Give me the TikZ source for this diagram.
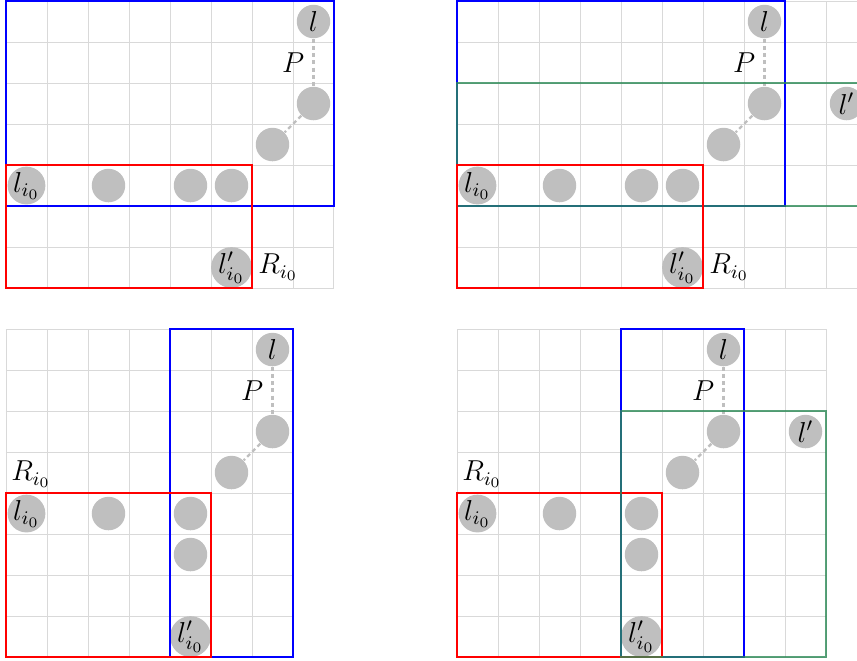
\documentclass[tikz,border=0pt]{standalone}
\usepackage{amsmath}
\usepackage{tikz}
\usetikzlibrary{positioning}
\definecolor{boxgreen}{RGB}{46,139,87}
\tikzstyle{cellgrid} = [black!15, line width=0.4pt, step=0.6cm]
\tikzstyle{pt}       = [circle, fill=lightgray, minimum size=0.49cm, inner sep=0pt]
\tikzstyle{pline}    = [lightgray, line width=1pt, dash pattern=on 1.7pt off 1.3pt]
\tikzstyle{rbox}     = [red, semithick]
\tikzstyle{bbox}     = [blue, semithick]
\tikzstyle{gbox}     = [boxgreen, semithick, opacity=0.8]

\begin{document}
\begin{tikzpicture}[x=0.6cm, y=0.6cm, every node/.style={font=\fontsize{11.5}{14}\selectfont}]
  \clip (-0.146,-0.073) rectangle (20.756,16.025);

  % --- Top left ---
  \begin{scope}[shift={(0,9)}]
    \draw[cellgrid] (0,0) grid (8,7);
    \node (tl_l)   [pt] at (7.5,6.5) {$l$};
    \node (tl_m1)  [pt] at (7.5,4.5) {};
    \node (tl_m2)  [pt] at (6.5,3.5) {};
    \node (tl_li)  [pt] at (0.5,2.5) {$l_{i_0}$};
    \node (tl_r1)  [pt] at (2.5,2.5) {};
    \node (tl_r2)  [pt] at (4.5,2.5) {};
    \node (tl_r3)  [pt] at (5.5,2.5) {};
    \node (tl_lpi) [pt] at (5.5,0.5) {$l'_{i_0}$};
    \node (tl_R)   [right=-1pt of tl_lpi] {$R_{i_0}$};
    \draw[pline] (tl_l) -- node[left, text=black]{$P$} (tl_m1);
    \draw[pline] (tl_m1) -- (tl_m2);
    \draw[bbox] (0,2) rectangle (8,7);
    \draw[rbox] (0,0) rectangle (6,3);
  \end{scope}

  % --- Top right ---
  \begin{scope}[shift={(11,9)}]
    \draw[cellgrid] (0,0) grid (10,7);
    \node (tr_l)   [pt] at (7.5,6.5) {$l$};
    \node (tr_m1)  [pt] at (7.5,4.5) {};
    \node (tr_m2)  [pt] at (6.5,3.5) {};
    \node (tr_lp)  [pt] at (9.5,4.5) {$l'$};
    \node (tr_li)  [pt] at (0.5,2.5) {$l_{i_0}$};
    \node (tr_r1)  [pt] at (2.5,2.5) {};
    \node (tr_r2)  [pt] at (4.5,2.5) {};
    \node (tr_r3)  [pt] at (5.5,2.5) {};
    \node (tr_lpi) [pt] at (5.5,0.5) {$l'_{i_0}$};
    \node (tr_R)   [right=-1pt of tr_lpi] {$R_{i_0}$};
    \draw[pline] (tr_l) -- node[left, text=black]{$P$} (tr_m1);
    \draw[pline] (tr_m1) -- (tr_m2);
    \draw[bbox] (0,2) rectangle (8,7);
    \draw[gbox] (0,2) rectangle (10,5);
    \draw[rbox] (0,0) rectangle (6,3);
  \end{scope}

  % --- Bottom left ---
  \begin{scope}[shift={(0,0)}]
    \draw[cellgrid] (0,0) grid (7,8);
    \node (bl_l)   [pt] at (6.5,7.5) {$l$};
    \node (bl_m1)  [pt] at (6.5,5.5) {};
    \node (bl_m2)  [pt] at (5.5,4.5) {};
    \node (bl_li)  [pt] at (0.5,3.5) {$l_{i_0}$};
    \node (bl_r1)  [pt] at (2.5,3.5) {};
    \node (bl_r2)  [pt] at (4.5,3.5) {};
    \node (bl_d1)  [pt] at (4.5,2.5) {};
    \node (bl_lpi) [pt] at (4.5,0.5) {$l'_{i_0}$};
    \node (bl_R)   [anchor=south west, inner sep=2pt] at (0,4) {$R_{i_0}$};
    \draw[pline] (bl_l) -- node[left, text=black]{$P$} (bl_m1);
    \draw[pline] (bl_m1) -- (bl_m2);
    \draw[bbox] (4,0) rectangle (7,8);
    \draw[rbox] (0,0) rectangle (5,4);
  \end{scope}

  % --- Bottom right ---
  \begin{scope}[shift={(11,0)}]
    \draw[cellgrid] (0,0) grid (9,8);
    \node (br_l)   [pt] at (6.5,7.5) {$l$};
    \node (br_m1)  [pt] at (6.5,5.5) {};
    \node (br_m2)  [pt] at (5.5,4.5) {};
    \node (br_lp)  [pt] at (8.5,5.5) {$l'$};
    \node (br_li)  [pt] at (0.5,3.5) {$l_{i_0}$};
    \node (br_r1)  [pt] at (2.5,3.5) {};
    \node (br_r2)  [pt] at (4.5,3.5) {};
    \node (br_d1)  [pt] at (4.5,2.5) {};
    \node (br_lpi) [pt] at (4.5,0.5) {$l'_{i_0}$};
    \node (br_R)   [anchor=south west, inner sep=2pt] at (0,4) {$R_{i_0}$};
    \draw[pline] (br_l) -- node[left, text=black]{$P$} (br_m1);
    \draw[pline] (br_m1) -- (br_m2);
    \draw[bbox] (4,0) rectangle (7,8);
    \draw[rbox] (0,0) rectangle (5,4);
    \draw[gbox] (4,0) rectangle (9,6);
  \end{scope}

\end{tikzpicture}
\end{document}
